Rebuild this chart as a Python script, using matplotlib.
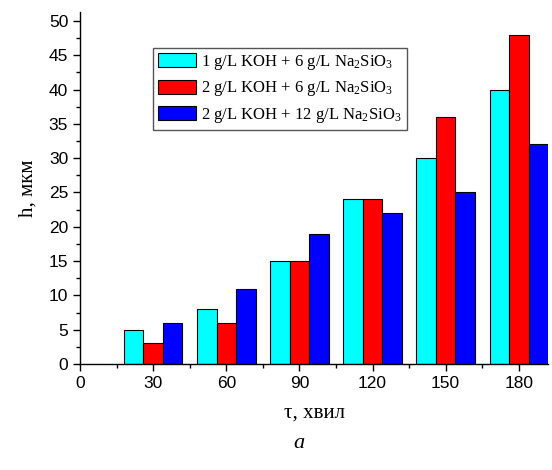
import matplotlib
matplotlib.use("Agg")
import matplotlib.pyplot as plt
import numpy as np
from matplotlib.ticker import MultipleLocator

plt.rcParams['mathtext.fontset'] = 'custom'
plt.rcParams['mathtext.rm'] = 'Liberation Serif'
plt.rcParams['mathtext.it'] = 'Liberation Serif:italic'

times = [30, 60, 90, 120, 150, 180]
series_labels = ["1 g/L KOH + 6 g/L Na$_2$SiO$_3$",
                 "2 g/L KOH + 6 g/L Na$_2$SiO$_3$",
                 "2 g/L KOH + 12 g/L Na$_2$SiO$_3$"]
cyan_vals = [5, 8, 15, 24, 30, 40]
red_vals = [3, 6, 15, 24, 36, 48]
blue_vals = [6, 11, 19, 22, 25, 32]
colors = ['#00FFFF', '#FF0000', '#0000FF']

fig = plt.figure(figsize=(5.52, 4.70), dpi=100)
ax = fig.add_axes([80/552, (470-364)/470, (548-80)/552, (364-12)/470])

bw = 8.0
x = np.array(times, dtype=float)
for i, (vals, c, lab) in enumerate(zip([cyan_vals, red_vals, blue_vals], colors, series_labels)):
    ax.bar(x + (i - 1) * bw, vals, width=bw, color=c, edgecolor='black',
           linewidth=0.8, label=lab)

ax.set_xlim(0, 192)
ax.set_ylim(0, 51.3)
ax.xaxis.set_major_locator(MultipleLocator(30))
ax.xaxis.set_minor_locator(MultipleLocator(15))
ax.yaxis.set_major_locator(MultipleLocator(5))
ax.yaxis.set_minor_locator(MultipleLocator(2.5))
ax.tick_params(which='major', direction='out', length=5, width=1, labelsize=12.5)
ax.tick_params(which='minor', direction='out', length=3, width=1)
for lbl in ax.get_xticklabels() + ax.get_yticklabels():
    lbl.set_family('Liberation Sans')
ax.spines['top'].set_visible(False)
ax.spines['right'].set_visible(False)
ax.spines['left'].set_linewidth(1)
ax.spines['bottom'].set_linewidth(1)

ax.set_xlabel("τ, хвил", family='Liberation Serif', fontsize=15, labelpad=9)
ax.set_ylabel("h, мкм", family='Liberation Serif', fontsize=15, labelpad=8)

leg = ax.legend(loc='upper left', bbox_to_anchor=(153/552, 1 - 48/470),
                bbox_transform=fig.transFigure, borderaxespad=0,
                prop={'family': 'Liberation Serif', 'size': 12},
                fancybox=False, edgecolor='#555555', framealpha=1,
                handlelength=2.3, handleheight=0.9, borderpad=0.3,
                labelspacing=0.45, handletextpad=0.3)
leg.get_frame().set_linewidth(1)

fig.text(299/552, 1 - 443/470, "a", family='Liberation Serif', style='italic',
         fontsize=16, ha='center', va='center')

fig.savefig("out.png", dpi=100)
